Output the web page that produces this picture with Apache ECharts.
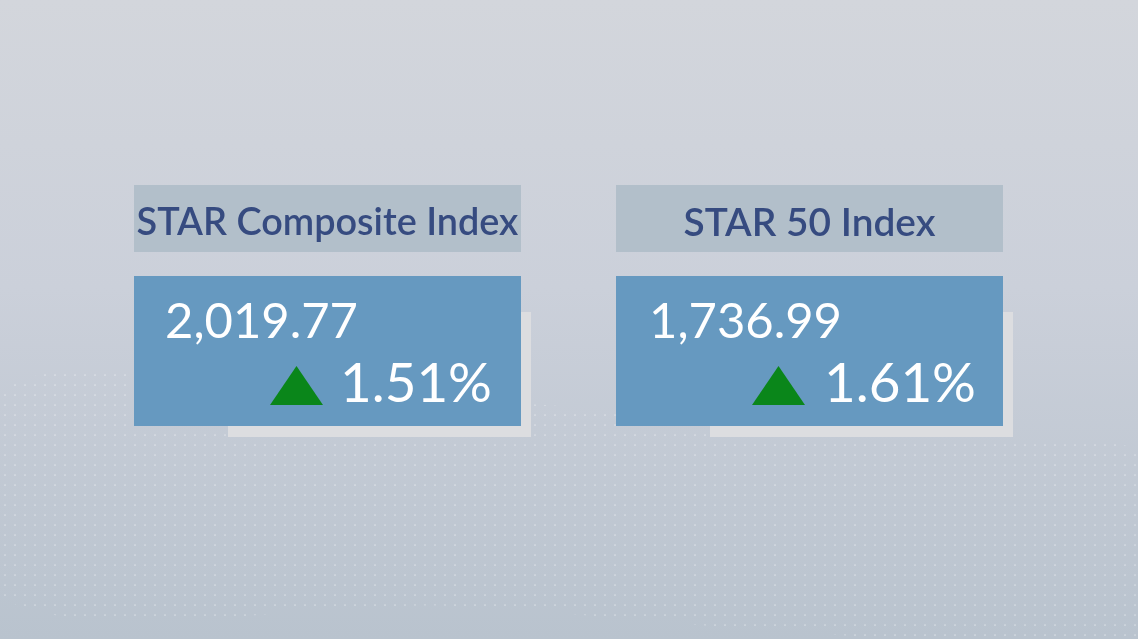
<!DOCTYPE html>
<html lang="en">
<head>
	<meta charset="UTF-8">
	<title>STAR Market</title>
	<style>
		*{margin: 0; padding: 0; box-sizing: border-box;}
		html, body{width: 100%; height: 100%; overflow: hidden;}
		#view{width: 1138px; height: 639px;}
	</style>
</head>
<body>
	<div id="view"></div>
	<script src="https://cdn.jsdelivr.net/npm/echarts@6/dist/echarts.min.js"></script>
	<script>
		// values
		const indexNames = ['STAR Composite Index', 'STAR 50 Index'];
		const indexValues = [2019.77, 1736.99];
		const changePct = [1.51, 1.61];

		const cardLeft = [134, 616];
		const cardW = 387;
		const font = 'Lato';

		const measure = document.createElement('canvas').getContext('2d');
		// pick a font size so the text is as wide as in the picture
		function fitSize(text, width, weight) {
			measure.font = (weight || 'normal') + ' 100px ' + font;
			return 100 * width / measure.measureText(text).width;
		}

		// little white dots for the background texture
		const dotTile = document.createElement('canvas');
		dotTile.width = 10; dotTile.height = 10;
		const dc = dotTile.getContext('2d');
		dc.fillStyle = 'rgba(255,255,255,0.45)';
		dc.beginPath(); dc.arc(5, 5, 0.85, 0, Math.PI * 2); dc.fill();

		const fmt = v => v.toLocaleString('en-US', {minimumFractionDigits: 2, maximumFractionDigits: 2});

		const elements = [
			{
				type: 'rect', silent: true, z: 0,
				shape: {x: 0, y: 0, width: 1138, height: 639},
				style: {fill: new echarts.graphic.LinearGradient(0, 0, 0, 1, [
					{offset: 0, color: '#d3d6dc'},
					{offset: 0.45, color: '#cbd0da'},
					{offset: 1, color: '#b9c3ce'}
				])}
			},
			{
				type: 'polygon', silent: true, z: 1,
				shape: {smooth: 0.3, points: [[8, 387], [300, 392], [620, 410], [1010, 442], [1138, 455],
					[1138, 639], [800, 632], [450, 606], [8, 601]]},
				style: {fill: {image: dotTile, repeat: 'repeat'}}
			}
		];

		indexNames.forEach(function (name, i) {
			const x = cardLeft[i];
			const valText = fmt(indexValues[i]);
			const pctText = changePct[i].toFixed(2) + '%';
			elements.push(
				{
					type: 'rect', silent: true, z: 2,
					shape: {x: x, y: 185, width: cardW, height: 67},
					style: {fill: '#b2bfca'}
				},
				{
					type: 'text', silent: true, z: 3,
					style: {
						text: name, x: x + cardW / 2, y: 223, align: 'center', verticalAlign: 'middle',
						fill: '#364b80',
						font: '600 ' + fitSize(name, i === 0 ? 382 : 252, '600') + 'px ' + font
					}
				},
				{
					type: 'rect', silent: true, z: 2,
					shape: {x: x + 94, y: 312, width: 303, height: 125},
					style: {fill: '#dcdde0'}
				},
				{
					type: 'rect', silent: true, z: 3,
					shape: {x: x, y: 276, width: cardW, height: 150},
					style: {fill: '#6699c0'}
				},
				{
					type: 'text', silent: true, z: 4,
					style: {
						text: valText, x: x + 31 + (i === 1 ? 2 : 0), y: 322, align: 'left', verticalAlign: 'middle',
						fill: '#ffffff',
						font: fitSize(valText, 193) + 'px ' + font
					}
				},
				{
					type: 'polygon', silent: true, z: 4,
					shape: {points: [[x + 136, 405], [x + 189, 405], [x + 162.5, 366]]},
					style: {fill: '#0a861a'}
				},
				{
					type: 'text', silent: true, z: 4,
					style: {
						text: pctText, x: x + 206 + (i === 1 ? 2 : 0), y: 384, align: 'left', verticalAlign: 'middle',
						fill: '#ffffff',
						font: fitSize(pctText, 152) + 'px ' + font
					}
				}
			);
		});

		const myChart = echarts.init(document.getElementById('view'));
		myChart.setOption({
			animation: false,
			graphic: {elements: elements}
		});
	</script>
</body>
</html>
